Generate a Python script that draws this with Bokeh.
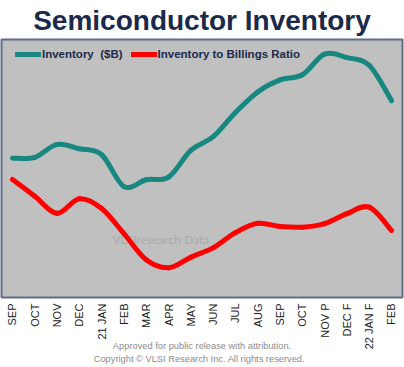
import math
from bokeh.plotting import figure
from bokeh.models import Range1d, FixedTicker, Legend, LegendItem, Label, Title, ColumnDataSource
from bokeh.embed import file_html
from bokeh.resources import INLINE

# ---- data ----
months = ["SEP", "OCT", "NOV", "DEC", "21 JAN", "FEB", "MAR", "APR", "MAY", "JUN",
          "JUL", "AUG", "SEP", "OCT", "NOV P", "DEC F", "22 JAN F", "FEB"]
inventory = [36.2, 36.3, 37.8, 37.3, 36.6, 32.9, 33.7, 34.0, 37.1, 38.7,
             41.5, 43.9, 45.3, 45.9, 48.3, 47.9, 47.0, 42.9]
ratio = [1.166, 1.114, 1.061, 1.106, 1.076, 0.998, 0.917, 0.892, 0.925, 0.954,
         1.001, 1.030, 1.020, 1.018, 1.029, 1.060, 1.080, 1.008]

TEAL = "#17877F"
RED = "#FF0000"
NAVY = "#1B2A4A"


def smooth_segments(vals):
    """Bezier segments (Catmull-Rom control points) through the data points."""
    n = len(vals)
    xs = list(range(n))
    d = dict(x0=[], y0=[], x1=[], y1=[], cx0=[], cy0=[], cx1=[], cy1=[])
    for i in range(n - 1):
        ip = max(i - 1, 0)
        inx = min(i + 2, n - 1)
        d["x0"].append(xs[i]); d["y0"].append(vals[i])
        d["x1"].append(xs[i + 1]); d["y1"].append(vals[i + 1])
        d["cx0"].append(xs[i] + (xs[i + 1] - xs[ip]) / 6.0)
        d["cy0"].append(vals[i] + (vals[i + 1] - vals[ip]) / 6.0)
        d["cx1"].append(xs[i + 1] - (xs[inx] - xs[i]) / 6.0)
        d["cy1"].append(vals[i + 1] - (vals[inx] - vals[i]) / 6.0)
    return ColumnDataSource(d)


p = figure(width=404, height=367, output_backend="svg", toolbar_location=None,
           x_range=Range1d(-0.4934, 17.4935), y_range=Range1d(20, 50),
           y_axis_location=None, min_border_left=1, min_border_right=2,
           min_border_top=39, min_border_bottom=70)
p.extra_y_ranges = {"ratio": Range1d(0.8, 1.6)}

p.background_fill_color = "#C0C0C0"
p.border_fill_color = "white"
p.outline_line_color = "#5E6E88"
p.outline_line_width = 2
p.xgrid.visible = False
p.ygrid.visible = False

ax = p.xaxis[0]
ax.ticker = FixedTicker(ticks=list(range(len(months))))
ax.major_label_overrides = {i: m for i, m in enumerate(months)}
ax.major_label_orientation = math.pi / 2
ax.major_label_text_font = "Liberation Sans"
ax.major_label_text_font_size = "11px"
ax.major_label_text_color = "#222222"
ax.major_label_standoff = 6
ax.major_tick_out = 0
ax.major_tick_in = 0
ax.minor_tick_out = 0
ax.minor_tick_in = 0
ax.axis_line_color = None
ax.major_tick_line_color = None
ax.minor_tick_line_color = None
# footnotes as the (two-line) axis label below the month labels
ax.axis_label = ("Approved for public release with attribution.\n"
                 "Copyright \u00a9  VLSI Research Inc.  All rights reserved.")
ax.axis_label_text_font = "Liberation Sans"
ax.axis_label_text_font_style = "normal"
ax.axis_label_text_font_size = "9.3px"
ax.axis_label_text_color = "#8C8C8C"
ax.axis_label_text_line_height = 1.25
ax.axis_label_standoff = -11

# title above
p.add_layout(Title(text="Semiconductor Inventory", align="center", vertical_align="top",
                   text_font="Liberation Sans", text_font_style="bold",
                   text_font_size="28px", text_color=NAVY, standoff=4), "above")

# watermark (under the lines)
wm = Label(x=111, y=58, x_units="screen", y_units="screen", text="VLSIresearch Data",
           text_font="Lato", text_font_size="12px", text_color="#A9A9A9",
           text_baseline="middle", text_align="left", level="underlay")
p.add_layout(wm)

r_inv = p.bezier(x0="x0", y0="y0", x1="x1", y1="y1", cx0="cx0", cy0="cy0", cx1="cx1", cy1="cy1",
                 source=smooth_segments(inventory), line_color=TEAL, line_width=5, line_cap="round")
r_rat = p.bezier(x0="x0", y0="y0", x1="x1", y1="y1", cx0="cx0", cy0="cy0", cx1="cx1", cy1="cy1",
                 source=smooth_segments(ratio), line_color=RED, line_width=5, line_cap="round",
                 y_range_name="ratio")

legend = Legend(items=[LegendItem(label="Inventory  ($B)", renderers=[r_inv]),
                       LegendItem(label="Inventory to Billings Ratio", renderers=[r_rat])],
                location=(14, 236), orientation="horizontal",
                background_fill_alpha=0, border_line_alpha=0,
                label_text_font="Liberation Sans", label_text_font_style="bold",
                label_text_font_size="11.5px", label_text_color=NAVY,
                glyph_width=26, glyph_height=14, label_height=14, label_standoff=1,
                spacing=8, padding=0, margin=0)
p.add_layout(legend)

open("out.html", "w").write(file_html(p, INLINE))
